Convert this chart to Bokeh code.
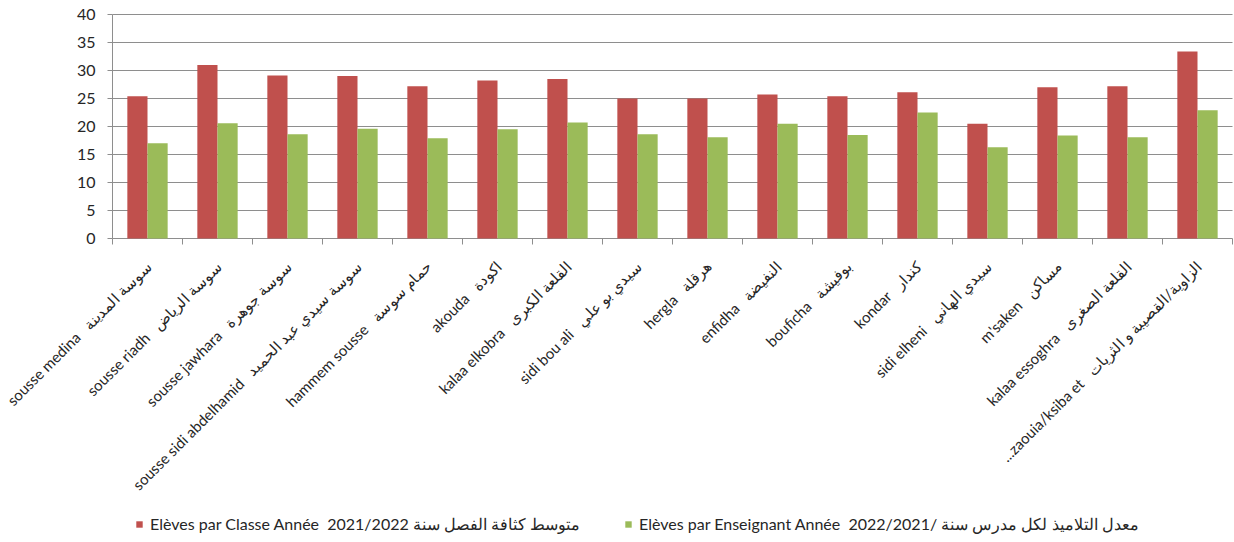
import numpy as np
from math import pi
from bokeh.plotting import figure
from bokeh.models import Range1d, Legend, LegendItem
from bokeh.core.properties import value
from bokeh.embed import file_html
from bokeh.resources import INLINE

# ---------------- data ----------------
names_latin = ["sousse medina", "sousse riadh", "sousse jawhara", "sousse sidi abdelhamid",
               "hammem sousse", "akouda", "kalaa elkobra", "sidi bou ali", "hergla",
               "enfidha", "bouficha", "kondar", "sidi elheni", "m'saken",
               "kalaa essoghra", "...zaouia/ksiba et"]
names_arabic = ["سوسة المدينة", "سوسة الرياض", "سوسة جوهرة", "سوسة سيدي عبد الحميد",
                "حمام سوسة", "اكودة", "القلعة الكبرى", "سيدي بو علي", "هرقلة",
                "النفيضة", "بوفيشة", "كندار", "سيدي الهاني", "مساكن",
                "القلعة الصغرى", "الزاوية/القصيبة و الثريات"]
eleves_par_classe = [25.4, 31.0, 29.1, 29.0, 27.2, 28.2, 28.5, 25.0, 25.0,
                     25.7, 25.4, 26.1, 20.5, 27.0, 27.2, 33.4]
eleves_par_enseignant = [17.0, 20.6, 18.6, 19.6, 17.9, 19.5, 20.7, 18.6, 18.1,
                         20.5, 18.5, 22.5, 16.3, 18.4, 18.1, 22.9]
y_ticks = [0, 5, 10, 15, 20, 25, 30, 35, 40]
legend_labels = ["Elèves par Classe Année \u00a02021/2022 متوسط كثافة الفصل سنة",
                 "Elèves par Enseignant Année \u00a02022/2021/ معدل التلاميذ لكل مدرس سنة"]

RED = "#C0504D"
GREEN = "#9BBB59"
GRID = "#8E8E8E"
TXT = "#262626"
FONT = "Lato"

n = len(names_latin)
idx = np.arange(n)
labels = [f"{a}\u00a0\u00a0\u00a0{b}" for a, b in zip(names_latin, names_arabic)]
y_max = y_ticks[-1]

# layout constants (pixels)
W, H = 1234, 542
LEFT, RIGHT = 112, 2          # plot area left / right margins
TOP, BOTTOM_Y = 14, 238       # plot area top and baseline (y = 0) in pixels
ppu = (W - LEFT - RIGHT) / n  # px per category
ppy = (BOTTOM_Y - TOP) / y_max

p = figure(width=W, height=H,
           x_range=Range1d(-LEFT / ppu, n + RIGHT / ppu),
           y_range=Range1d(-(H - BOTTOM_Y) / ppy, y_max + TOP / ppy),
           output_backend="svg", toolbar_location=None,
           x_axis_location=None, y_axis_location=None, min_border=0)
p.outline_line_color = None
p.grid.visible = False

# horizontal grid lines
p.segment(x0=0, x1=n, y0=y_ticks, y1=y_ticks, line_color=GRID, line_width=1)
# value axis line and ticks
p.segment(x0=0, x1=0, y0=0, y1=y_max, line_color=GRID, line_width=1)
p.segment(x0=-5 / ppu, x1=0, y0=y_ticks, y1=y_ticks, line_color=GRID, line_width=1)
p.text(x=0, y=y_ticks, text=[str(t) for t in y_ticks], x_offset=-17,
       text_align="right", text_baseline="middle",
       text_font=value(FONT), text_font_size="16px", text_color=TXT)
# category axis ticks (between categories)
bounds = list(range(n + 1))
p.segment(x0=bounds, x1=bounds, y0=0, y1=-6 / ppy, line_color=GRID, line_width=1)

# bars
bw = 0.288
r1 = p.vbar(x=idx + 0.5 - bw / 2, top=eleves_par_classe, width=bw,
            fill_color=RED, line_color=None)
r2 = p.vbar(x=idx + 0.5 + bw / 2, top=eleves_par_enseignant, width=bw,
            fill_color=GREEN, line_color=None)

# category labels (rotated 45°)
p.text(x=idx + 0.5, y=-25 / ppy, text=labels, angle=pi / 4, x_offset=1,
       text_align="right", text_baseline="middle",
       text_font=value(FONT), text_font_size="15px", text_color=TXT)

# legend at the bottom
legend = Legend(items=[LegendItem(label=legend_labels[0], renderers=[r1]),
                       LegendItem(label=legend_labels[1], renderers=[r2])],
                orientation="horizontal", location=(LEFT + 23, 8),
                padding=0, margin=0, spacing=0, label_width=474,
                border_line_color=None, background_fill_alpha=0,
                glyph_width=8, glyph_height=8, label_standoff=7,
                label_text_font=FONT, label_text_font_size="16px",
                label_text_color=TXT)
p.add_layout(legend, "center")

open("out.html", "w").write(file_html(p, INLINE))
